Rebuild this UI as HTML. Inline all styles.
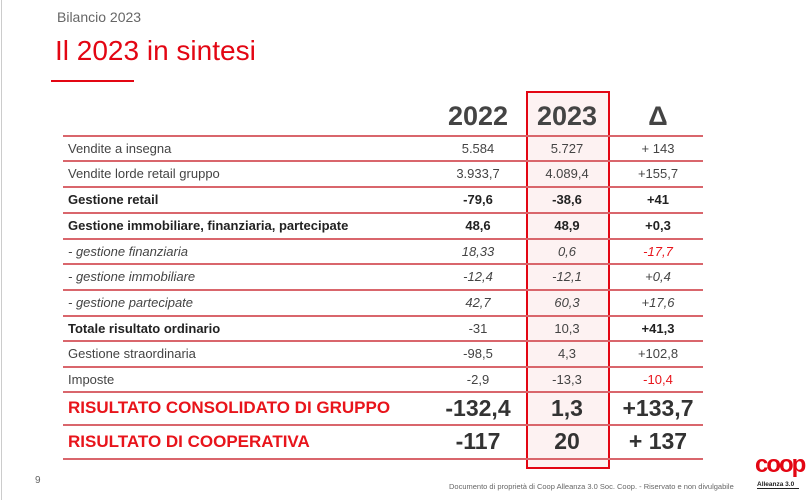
<!DOCTYPE html>
<html><head><meta charset="utf-8"><style>
body{margin:0;width:810px;height:500px;background:#fff;position:relative;overflow:hidden;font-family:"Liberation Sans","DejaVu Sans",sans-serif;color:#444}
.a{position:absolute}
.ln{position:absolute;left:63px;width:640px;height:1.5px;background:#d9666c}
.r{position:absolute;left:63px;width:640px;display:flex;align-items:center;font-size:13px}
.r .l{width:360px;padding-left:5px;white-space:nowrap}
.r .c{position:absolute;width:90px;text-align:center;transform:translateX(-45px)}
.b{font-weight:bold;color:#222}
.i{font-style:italic}
.red{color:#e8141b}
</style></head><body>
<div class="a" style="left:1px;top:0;width:1px;height:500px;background:#ccc"></div>
<div class="a" style="left:57px;top:9px;font-size:14px;color:#666">Bilancio 2023</div>
<div class="a" style="left:55px;top:35px;font-size:28px;color:#e30613">Il 2023 in sintesi</div>
<div class="a" style="left:51px;top:80px;width:83px;height:2px;background:#e30613"></div>
<div class="a" style="left:526px;top:91px;width:80px;height:374px;background:#fdf2f2;border:2px solid #e30613"></div>
<div class="a b" style="left:433px;top:101px;width:90px;text-align:center;font-size:27px;color:#444">2022</div>
<div class="a b" style="left:522px;top:101px;width:90px;text-align:center;font-size:27px;color:#444">2023</div>
<div class="a b" style="left:613px;top:101px;width:90px;text-align:center;font-size:27px;color:#444">Δ</div>
<div class="ln" style="top:135px"></div><div class="ln" style="top:160px"></div><div class="ln" style="top:186px"></div><div class="ln" style="top:212px"></div><div class="ln" style="top:238px"></div><div class="ln" style="top:263px"></div><div class="ln" style="top:289px"></div><div class="ln" style="top:315px"></div><div class="ln" style="top:340px"></div><div class="ln" style="top:366px"></div><div class="ln" style="top:391px"></div><div class="ln" style="top:424px"></div><div class="ln" style="top:458px"></div>

<div class="r" style="top:136px;height:24px"><span class="l">Vendite a insegna</span><span class="c" style="left:415px">5.584</span><span class="c" style="left:504px">5.727</span><span class="c" style="left:595px">+ 143</span></div>
<div class="r" style="top:161px;height:25px"><span class="l">Vendite lorde retail gruppo</span><span class="c" style="left:415px">3.933,7</span><span class="c" style="left:504px">4.089,4</span><span class="c" style="left:595px">+155,7</span></div>
<div class="r b" style="top:187px;height:25px"><span class="l">Gestione retail</span><span class="c" style="left:415px">-79,6</span><span class="c" style="left:504px">-38,6</span><span class="c" style="left:595px">+41</span></div>
<div class="r b" style="top:213px;height:25px"><span class="l">Gestione immobiliare, finanziaria, partecipate</span><span class="c" style="left:415px">48,6</span><span class="c" style="left:504px">48,9</span><span class="c" style="left:595px">+0,3</span></div>
<div class="r i" style="top:239px;height:24px"><span class="l">- gestione finanziaria</span><span class="c" style="left:415px">18,33</span><span class="c" style="left:504px">0,6</span><span class="c red" style="left:595px">-17,7</span></div>
<div class="r i" style="top:264px;height:25px"><span class="l">- gestione immobiliare</span><span class="c" style="left:415px">-12,4</span><span class="c" style="left:504px">-12,1</span><span class="c" style="left:595px">+0,4</span></div>
<div class="r i" style="top:290px;height:25px"><span class="l">- gestione partecipate</span><span class="c" style="left:415px">42,7</span><span class="c" style="left:504px">60,3</span><span class="c" style="left:595px">+17,6</span></div>
<div class="r" style="top:316px;height:24px"><span class="l b">Totale risultato ordinario</span><span class="c" style="left:415px">-31</span><span class="c" style="left:504px">10,3</span><span class="c b" style="left:595px">+41,3</span></div>
<div class="r" style="top:341px;height:25px"><span class="l">Gestione straordinaria</span><span class="c" style="left:415px">-98,5</span><span class="c" style="left:504px">4,3</span><span class="c" style="left:595px">+102,8</span></div>
<div class="r" style="top:367px;height:24px"><span class="l">Imposte</span><span class="c" style="left:415px">-2,9</span><span class="c" style="left:504px">-13,3</span><span class="c red" style="left:595px">-10,4</span></div>
<div class="r b" style="top:392px;height:32px;font-size:23px;color:#333"><span class="l red" style="font-size:17px">RISULTATO CONSOLIDATO DI GRUPPO</span><span class="c" style="left:415px">-132,4</span><span class="c" style="left:504px">1,3</span><span class="c" style="left:595px">+133,7</span></div>
<div class="r b" style="top:425px;height:33px;font-size:23px;color:#333"><span class="l red" style="font-size:17px">RISULTATO DI COOPERATIVA</span><span class="c" style="left:415px">-117</span><span class="c" style="left:504px">20</span><span class="c" style="left:595px">+ 137</span></div>

<div class="a" style="left:35px;top:475px;font-size:10px;color:#666">9</div>
<div class="a" style="left:449px;top:482px;font-size:7.5px;color:#666;white-space:nowrap">Documento di proprietà di Coop Alleanza 3.0 Soc. Coop. - Riservato e non divulgabile</div>
<div class="a b" style="left:755px;top:452px;font-size:24px;color:#e30613;letter-spacing:-2px;line-height:26px">coop</div>
<div class="a b" style="left:757px;top:481px;font-size:6.5px;color:#222;border-bottom:1px solid #222;width:42px">Alleanza 3.0</div>
</body></html>
